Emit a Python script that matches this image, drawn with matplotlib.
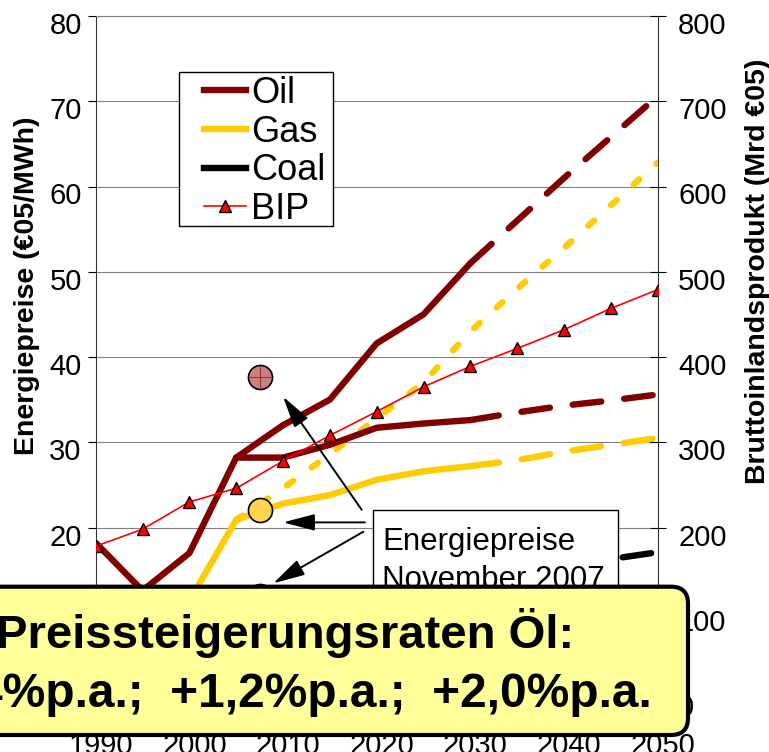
import matplotlib
matplotlib.use("Agg")
import matplotlib.pyplot as plt
import matplotlib.transforms as mtransforms
from matplotlib.patches import FancyBboxPatch, Rectangle
from matplotlib.lines import Line2D

plt.rcParams['font.family'] = ['Liberation Sans', 'DejaVu Sans']

# energy prices (EUR05/MWh)
years_hist = [1990, 1995, 2000, 2005]
oil_hist = [18.2, 12.6, 17.0, 28.2]
gas_hist = [9.5, 8.0, 11.4, 20.9]
coal_hist = [10.5, 9.0, 8.0, 9.5]

years_mid = [2005, 2010, 2015, 2020, 2025, 2030]
oil_high_mid = [28.2, 32.0, 35.0, 41.6, 45.0, 51.0]
oil_low_mid = [28.2, 28.2, 29.7, 31.7, 32.2, 32.6]
gas_low_mid = [20.9, 22.8, 23.8, 25.6, 26.6, 27.2]
coal_mid = [9.5, 11.0, 11.5, 12.0, 12.5, 13.0]

years_late = [2030, 2035, 2040, 2045, 2050]
oil_high_late = [51.0, 56.0, 61.0, 65.8, 70.6]
oil_low_late = [32.6, 33.5, 34.3, 34.9, 35.6]
gas_low_late = [27.2, 27.9, 28.9, 29.7, 30.5]
coal_late = [13.0, 14.2, 15.3, 16.3, 17.1]

years_gas_high = [2005, 2010, 2015, 2020, 2025, 2030, 2035, 2040, 2045, 2050]
gas_high = [20.9, 24.6, 28.6, 32.8, 37.0, 43.0, 48.0, 52.8, 57.8, 62.8]

# prices November 2007
year_2007 = 2007.5
oil_2007 = 37.7
gas_2007 = 22.0
coal_2007 = 12.0

# BIP (Mrd EUR05)
years_bip = [1990, 1995, 2000, 2005, 2010, 2015, 2020, 2025, 2030, 2035, 2040, 2045, 2050]
bip = [178, 198, 230, 246, 278, 308, 336, 365, 389, 410, 432, 457, 479]

oil_color = "#800000"
gas_color = "#FFCC00"
thick = 4.6
dashed = (0, (4.5, 3.6))
dotted = (0, (1.2, 3.6))
style = dict(solid_capstyle="round", solid_joinstyle="round",
             dash_capstyle="round", dash_joinstyle="round")

fig = plt.figure(figsize=(7.69, 7.52), dpi=100)
ax = fig.add_axes([95.7 / 769, 54 / 752, 562 / 769, 682 / 752])

# coal
ax.plot(years_hist, coal_hist, color="black", lw=thick, zorder=3, **style)
ax.plot(years_mid, coal_mid, color="black", lw=thick, zorder=3, **style)
ax.plot(years_late, coal_late, color="black", lw=thick, ls=dashed, zorder=3, **style)

# gas
ax.plot(years_hist, gas_hist, color=gas_color, lw=thick, zorder=3, **style)
ax.plot(years_mid, gas_low_mid, color=gas_color, lw=thick, zorder=3, **style)
ax.plot(years_late, gas_low_late, color=gas_color, lw=thick, ls=dashed, zorder=3, **style)
ax.plot(years_gas_high, gas_high, color=gas_color, lw=thick, ls=dotted, zorder=3, **style)

# oil
ax.plot(years_hist, oil_hist, color=oil_color, lw=thick, zorder=3, **style)
ax.plot(years_mid, oil_high_mid, color=oil_color, lw=thick, zorder=3, **style)
ax.plot(years_mid, oil_low_mid, color=oil_color, lw=thick, zorder=3, **style)
ax.plot(years_late, oil_high_late, color=oil_color, lw=thick, ls=dashed, zorder=3, **style)
ax.plot(years_late, oil_low_late, color=oil_color, lw=thick, ls=dashed, zorder=3, **style)

# price points November 2007
ax.scatter([year_2007], [coal_2007], s=300, c="#404040", edgecolors="black", linewidths=1.2, zorder=5)
ax.scatter([year_2007], [gas_2007], s=300, c="#FFD54F", edgecolors="black", linewidths=1.2, zorder=5)
ax.scatter([year_2007], [oil_2007], s=300, c="#C98282", edgecolors="black", linewidths=1.2, zorder=5)
ax.plot([year_2007], [oil_2007], marker="+", ms=16, mew=0.8, color="#A03030", zorder=6)

# annotation box + arrows
ax.add_patch(Rectangle((2019.6, 11.0), 26.2, 11.0, fc="white", ec="black", lw=1, zorder=7))
ax.text(2020.6, 17.36, "Energiepreise", fontsize=22.5, va="baseline", zorder=8)
ax.text(2020.6, 12.9, "November 2007", fontsize=22.5, va="baseline", zorder=8)
arrow = dict(arrowstyle="-|>,head_length=0.65,head_width=0.17", color="black",
             lw=1.4, mutation_scale=30, shrinkA=0, shrinkB=0)
ax.annotate("", xy=(2010.0, 35.35), xytext=(2018.4, 22.07), arrowprops=arrow, zorder=8)
ax.annotate("", xy=(2010.0, 20.6), xytext=(2018.75, 20.6), arrowprops=arrow, zorder=8)
ax.annotate("", xy=(2008.96, 13.45), xytext=(2018.57, 19.5), arrowprops=arrow, zorder=8)

# left axis
ax.set_xlim(1990, 2050)
ax.set_ylim(0, 80)
ax.set_xticks(range(1990, 2051, 10))
ax.set_yticks(range(0, 81, 10))
ax.grid(axis="y", color="#808080", lw=0.8)
ax.set_axisbelow(True)
ax.tick_params(axis="y", direction="out", length=5.8, width=0.8, labelsize=21, pad=4.3)
ax.tick_params(axis="x", direction="out", length=5.8, width=0.8, labelsize=21, pad=19.0)
ax.spines["top"].set_color("#808080")
ax.spines["right"].set_visible(False)
ax.spines["left"].set_color("#333333")

# right axis: BIP
ax2 = ax.twinx()
ax2.plot(years_bip, bip, color="red", lw=1.2, marker="^", ms=8, mfc="red", mec="black", mew=1, zorder=3)
ax2.set_ylim(0, 800)
ax2.set_yticks(range(0, 801, 100))
ax2.tick_params(axis="y", direction="inout", length=11.5, width=0.8, labelsize=21, pad=8.9)
for side in ["left", "top", "bottom"]:
    ax2.spines[side].set_visible(False)
ax2.spines["right"].set_color("#333333")

# excel-like label offsets
dy = mtransforms.ScaledTranslation(0, -0.07, fig.dpi_scale_trans)
for lab in ax.get_yticklabels() + ax2.get_yticklabels():
    lab.set_transform(lab.get_transform() + dy)
dx = mtransforms.ScaledTranslation(0.05, 0, fig.dpi_scale_trans)
for lab in ax.get_xticklabels():
    lab.set_transform(lab.get_transform() + dx)

fig.text(27 / 769, 1 - 286 / 752, "Energiepreise (€05/MWh)", rotation=90,
         ha="center", va="center", fontsize=20.5, fontweight="bold")
fig.text(758 / 769, 1 - 271.5 / 752, "Bruttoinlandsprodukt (Mrd €05)", rotation=90,
         ha="center", va="center", fontsize=20.5, fontweight="bold")

# legend
ax2.add_patch(Rectangle((179.3 / 769, 1 - 226 / 752), 153.4 / 769, 153.7 / 752,
                        transform=fig.transFigure, fc="white", ec="black", lw=1,
                        clip_on=False, zorder=9))
handles = [
    Line2D([], [], color=oil_color, lw=thick),
    Line2D([], [], color=gas_color, lw=thick),
    Line2D([], [], color="black", lw=thick),
    Line2D([], [], color="red", lw=1.2, marker="^", ms=8, mfc="red", mec="black", mew=1),
]
leg = ax2.legend(handles, ["Oil", "Gas", "Coal", "BIP"], loc="upper left",
                 bbox_to_anchor=(204 / 769, 1 - 76 / 752), bbox_transform=fig.transFigure,
                 fontsize=26, frameon=False, borderaxespad=0, borderpad=0,
                 labelspacing=0.1, handlelength=1.15, handletextpad=0.15, numpoints=1)
leg.set_zorder(10)

# yellow summary box
fig.add_artist(FancyBboxPatch((-0.3, 0.17), 7.18, 1.483,
                              boxstyle="round,pad=0,rounding_size=0.17",
                              transform=fig.dpi_scale_trans, fc="#FFFF99", ec="black",
                              lw=3, zorder=10))
fig.text(285 / 769, 1 - 648 / 752, "Preissteigerungsraten Öl:", ha="center", va="baseline",
         fontsize=34, fontweight="bold", zorder=11)
fig.text(280 / 769, 1 - 707 / 752, "+0,4%p.a.;  +1,2%p.a.;  +2,0%p.a.", ha="center",
         va="baseline", fontsize=34.5, fontweight="bold", zorder=11)

plt.savefig("out.png", dpi=100)
